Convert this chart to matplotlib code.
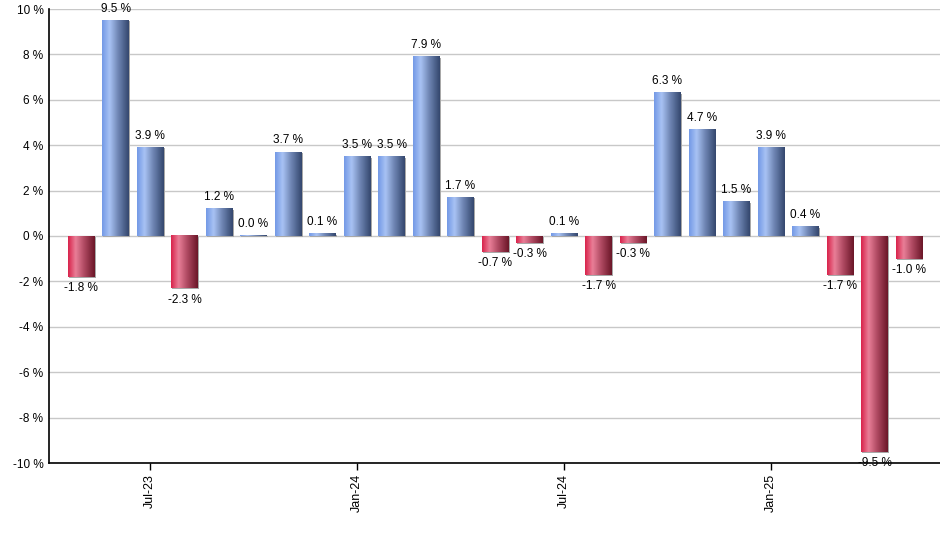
import matplotlib
matplotlib.use("Agg")
import matplotlib.pyplot as plt
from matplotlib.colors import LinearSegmentedColormap
from matplotlib.patches import Rectangle
import numpy as np

plt.rcParams['font.family'] = ['Liberation Sans', 'DejaVu Sans']

months = ["May-23", "Jun-23", "Jul-23", "Aug-23", "Sep-23", "Oct-23", "Nov-23", "Dec-23",
          "Jan-24", "Feb-24", "Mar-24", "Apr-24", "May-24", "Jun-24", "Jul-24", "Aug-24",
          "Sep-24", "Oct-24", "Nov-24", "Dec-24", "Jan-25", "Feb-25", "Mar-25", "Apr-25",
          "May-25"]
returns = [-1.8, 9.5, 3.9, -2.3, 1.2, 0.04, 3.7, 0.1, 3.5, 3.5, 7.9, 1.7, -0.7, -0.3,
           0.1, -1.7, -0.3, 6.3, 4.7, 1.5, 3.9, 0.4, -1.7, -9.5, -1.0]
shown_ticks = ["Jul-23", "Jan-24", "Jul-24", "Jan-25"]
yticks = [-10, -8, -6, -4, -2, 0, 2, 4, 6, 8, 10]

blue_cm = LinearSegmentedColormap.from_list(
    "blue", [(0, "#7399e6"), (0.28, "#a9c3f4"), (0.6, "#6f86b4"), (1, "#34476e")])
red_cm = LinearSegmentedColormap.from_list(
    "red", [(0, "#d9234b"), (0.28, "#e97f98"), (0.6, "#b04a62"), (1, "#6b1628")])

fig = plt.figure(figsize=(9.4, 5.5), dpi=100)
ax = fig.add_axes([49 / 940, 1 - 463 / 550, 1 - 49 / 940, (463 - 9) / 550])

x = np.arange(len(months))
w = 0.78
grad = np.linspace(0, 1, 64).reshape(1, -1)

for xi, v in zip(x, returns):
    lo, hi = min(0, v), max(0, v)
    # shadow
    ax.add_patch(Rectangle((xi - w / 2 + 0.03, lo - 0.045), w, hi - lo,
                           color="#a8a8a8", zorder=2, lw=0))
    cm = blue_cm if v >= 0 else red_cm
    ax.imshow(grad, cmap=cm, aspect="auto", extent=(xi - w / 2, xi + w / 2, lo, hi),
              zorder=3, interpolation="bicubic")
    txt = f"{v:.1f} %"
    if v >= 0:
        ax.annotate(txt, (xi, hi), xytext=(0, 4), textcoords="offset points",
                    ha="center", va="bottom", fontsize=8.5, zorder=5)
    else:
        ax.annotate(txt, (xi, lo), xytext=(0, -4), textcoords="offset points",
                    ha="center", va="top", fontsize=8.5, zorder=1)

ax.set_xlim(-0.93, 24.9)
ax.set_ylim(-10, 10)
ax.set_yticks(yticks)
ax.set_yticklabels([f"{t} %" for t in yticks], fontsize=8.5)
ax.set_xticks([months.index(m) for m in shown_ticks])
ax.set_xticklabels(shown_ticks, rotation=90, fontsize=9)
ax.tick_params(axis="y", length=0, pad=4)
ax.tick_params(axis="x", length=5, width=1, pad=3)
ax.grid(axis="y", color="#c8c8c8", lw=1, zorder=0)
ax.set_axisbelow(True)
for s in ["top", "right"]:
    ax.spines[s].set_visible(False)
for s in ["left", "bottom"]:
    ax.spines[s].set_linewidth(1.2)
    ax.spines[s].set_zorder(4)

fig.savefig("out.png", dpi=100)
